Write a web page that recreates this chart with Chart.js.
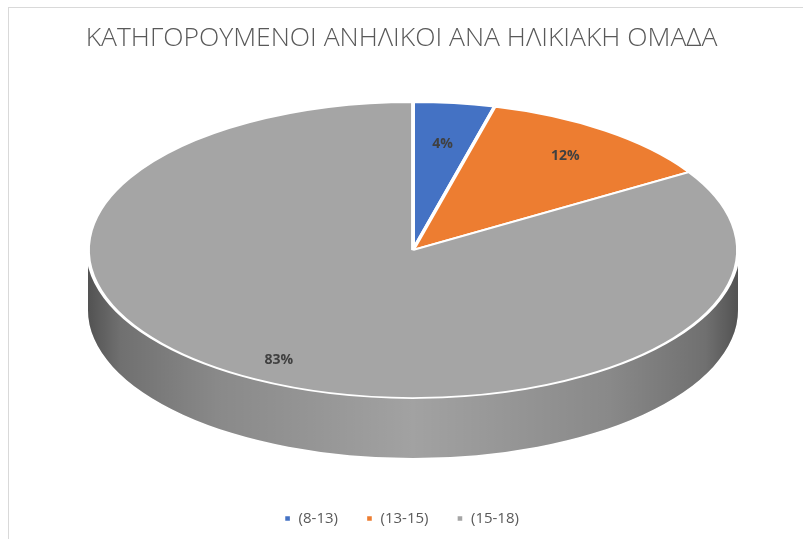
<!DOCTYPE html>
<html>
<head>
<meta charset="utf-8">
<script src="https://cdn.jsdelivr.net/npm/chart.js@4"></script>
<style>
  html, body { margin: 0; padding: 0; background: #fff; }
  #wrap { position: absolute; left: 0; top: 0; width: 803px; height: 539px; }
  #frame { position: absolute; left: 8px; top: 7px; right: -10px; bottom: -10px; border-left: 1px solid #d9d9d9; border-top: 1px solid #d9d9d9; }
</style>
</head>
<body>
<div id="wrap">
  <div id="frame"></div>
  <canvas id="pie" width="803" height="539"></canvas>
</div>
<script>
const chartTitle = 'ΚΑΤΗΓΟΡΟΥΜΕΝΟΙ ΑΝΗΛΙΚΟΙ ΑΝΑ ΗΛΙΚΙΑΚΗ ΟΜΑΔΑ';
const categories = ['(8-13)', '(13-15)', '(15-18)'];
const shares = [4, 12, 83]; // percent, as printed on the slices
const sliceColors = ['#4472c4', '#ed7d31', '#a5a5a5'];

// ellipse the flat pie is mapped onto (screen px)
const TILT = { cx: 413, cy: 250, rx: 325, ry: 148, depth: 60 };
const labelRadius = [0.72, 0.79, 0.85];

function tiltTransform(chart) {
  const arc = chart.getDatasetMeta(0).data[0];
  const r = arc.outerRadius;
  return { x: arc.x, y: arc.y, sx: TILT.rx / r, sy: TILT.ry / r };
}

const tiltPlugin = {
  id: 'tilt3d',
  beforeDatasetsDraw(chart) {
    const ctx = chart.ctx;
    const arcs = chart.getDatasetMeta(0).data;
    const { cx, cy, rx, ry, depth } = TILT;

    // side wall for the front half of the ellipse
    arcs.forEach((arc, i) => {
      for (let k = -1; k <= 1; k++) {
        const lo = Math.max(arc.startAngle, 2 * Math.PI * k);
        const hi = Math.min(arc.endAngle, 2 * Math.PI * k + Math.PI);
        if (hi <= lo) continue;
        ctx.save();
        ctx.beginPath();
        ctx.ellipse(cx, cy, rx, ry, 0, lo, hi);
        ctx.ellipse(cx, cy + depth, rx, ry, 0, hi, lo, true);
        ctx.closePath();
        ctx.fillStyle = sliceColors[i];
        ctx.fill();
        const g = ctx.createLinearGradient(cx - rx, 0, cx + rx, 0);
        g.addColorStop(0, 'rgba(0,0,0,0.5)');
        g.addColorStop(0.05, 'rgba(0,0,0,0.32)');
        g.addColorStop(0.2, 'rgba(0,0,0,0.17)');
        g.addColorStop(0.5, 'rgba(0,0,0,0.02)');
        g.addColorStop(0.8, 'rgba(0,0,0,0.17)');
        g.addColorStop(0.95, 'rgba(0,0,0,0.32)');
        g.addColorStop(1, 'rgba(0,0,0,0.5)');
        ctx.fillStyle = g;
        ctx.fill();
        ctx.restore();
      }
    });

    // squash the top face
    const t = tiltTransform(chart);
    ctx.save();
    ctx.translate(cx, cy);
    ctx.scale(t.sx, t.sy);
    ctx.translate(-t.x, -t.y);
  },
  afterDatasetsDraw(chart) {
    const ctx = chart.ctx;
    ctx.restore();
    const { cx, cy, rx, ry } = TILT;
    const arcs = chart.getDatasetMeta(0).data;
    ctx.save();
    ctx.font = 'bold 14px "Open Sans", sans-serif';
    ctx.fillStyle = '#404040';
    ctx.textAlign = 'center';
    ctx.textBaseline = 'middle';
    arcs.forEach((arc, i) => {
      const mid = (arc.startAngle + arc.endAngle) / 2;
      const f = labelRadius[i];
      ctx.fillText(shares[i] + '%', cx + rx * f * Math.cos(mid), cy + ry * f * Math.sin(mid));
    });
    ctx.restore();
  }
};

new Chart(document.getElementById('pie'), {
  type: 'pie',
  data: {
    labels: categories,
    datasets: [{
      data: shares,
      backgroundColor: sliceColors,
      borderColor: '#ffffff',
      borderWidth: 2.4
    }]
  },
  plugins: [tiltPlugin],
  options: {
    responsive: false,
    animation: false,
    layout: { padding: { top: 0, bottom: 3 } },
    plugins: {
      title: {
        display: true,
        text: chartTitle,
        color: '#595959',
        font: { family: '"Open Sans", sans-serif', size: 26.5, weight: 300 },
        padding: { top: 23, bottom: 20 }
      },
      legend: {
        position: 'bottom',
        labels: {
          color: '#595959',
          font: { family: '"Open Sans", sans-serif', size: 15 },
          boxWidth: 7,
          boxHeight: 7,
          padding: 28
        }
      },
      tooltip: { enabled: false }
    }
  }
});
</script>
</body>
</html>
